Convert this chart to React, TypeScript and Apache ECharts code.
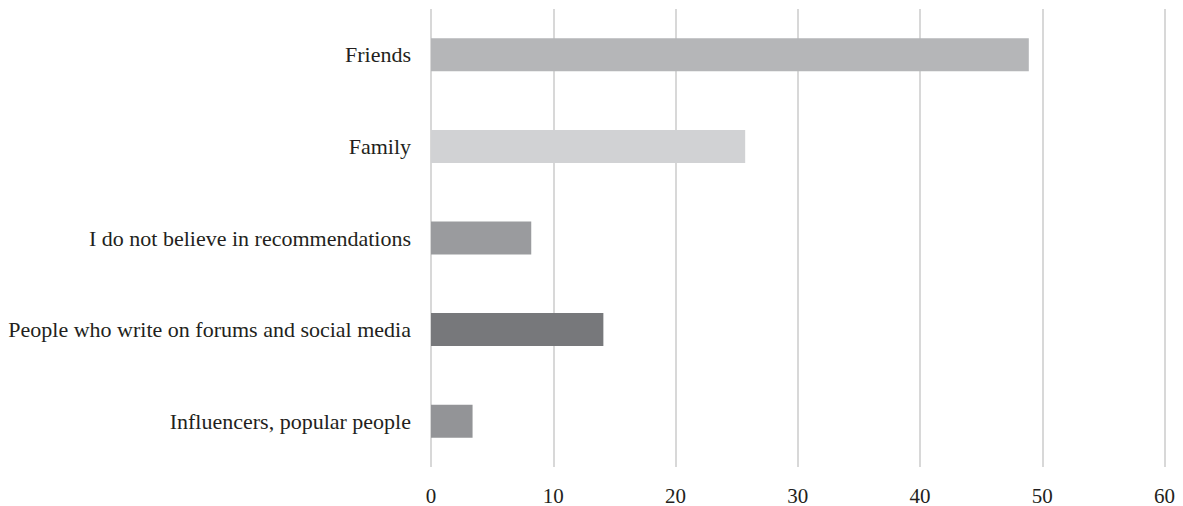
import React, { useEffect, useRef } from "react";
import * as echarts from "echarts";

const categories = [
  "Friends",
  "Family",
  "I do not believe in recommendations",
  "People who write on forums and social media",
  "Influencers, popular people",
];
const values = [48.9, 25.7, 8.2, 14.1, 3.4];
const barColors = ["#b5b6b8", "#d1d2d4", "#9a9b9e", "#77787b", "#939497"];
const xTicks = { min: 0, max: 60, interval: 10 };

export default function App() {
  const ref = useRef<HTMLDivElement>(null);
  useEffect(() => {
    if (!ref.current) return;
    const chart = echarts.init(ref.current, undefined, { renderer: "svg" });
    chart.setOption({
      animation: false,
      grid: { left: 431, right: 18.5, top: 9, bottom: 38, containLabel: false },
      xAxis: {
        type: "value",
        min: xTicks.min,
        max: xTicks.max,
        interval: xTicks.interval,
        axisLine: { show: false },
        axisTick: { show: false },
        splitLine: { show: true, lineStyle: { color: "#cbcbcb", width: 1.5 } },
        axisLabel: {
          color: "#231f20",
          fontFamily: "Liberation Serif",
          fontSize: 21,
          margin: 18,
        },
      },
      yAxis: {
        type: "category",
        data: categories,
        inverse: true,
        axisLine: { show: false },
        axisTick: { show: false },
        axisLabel: {
          color: "#231f20",
          fontFamily: "Liberation Serif",
          fontSize: 22,
          margin: 20,
        },
      },
      series: [
        {
          type: "bar",
          barWidth: 33,
          data: values.map((v, i) => ({ value: v, itemStyle: { color: barColors[i] } })),
        },
      ],
    });
    return () => chart.dispose();
  }, []);
  return <div ref={ref} style={{ width: 1183, height: 506, position: "absolute", left: 0, top: 0 }} />;
}
